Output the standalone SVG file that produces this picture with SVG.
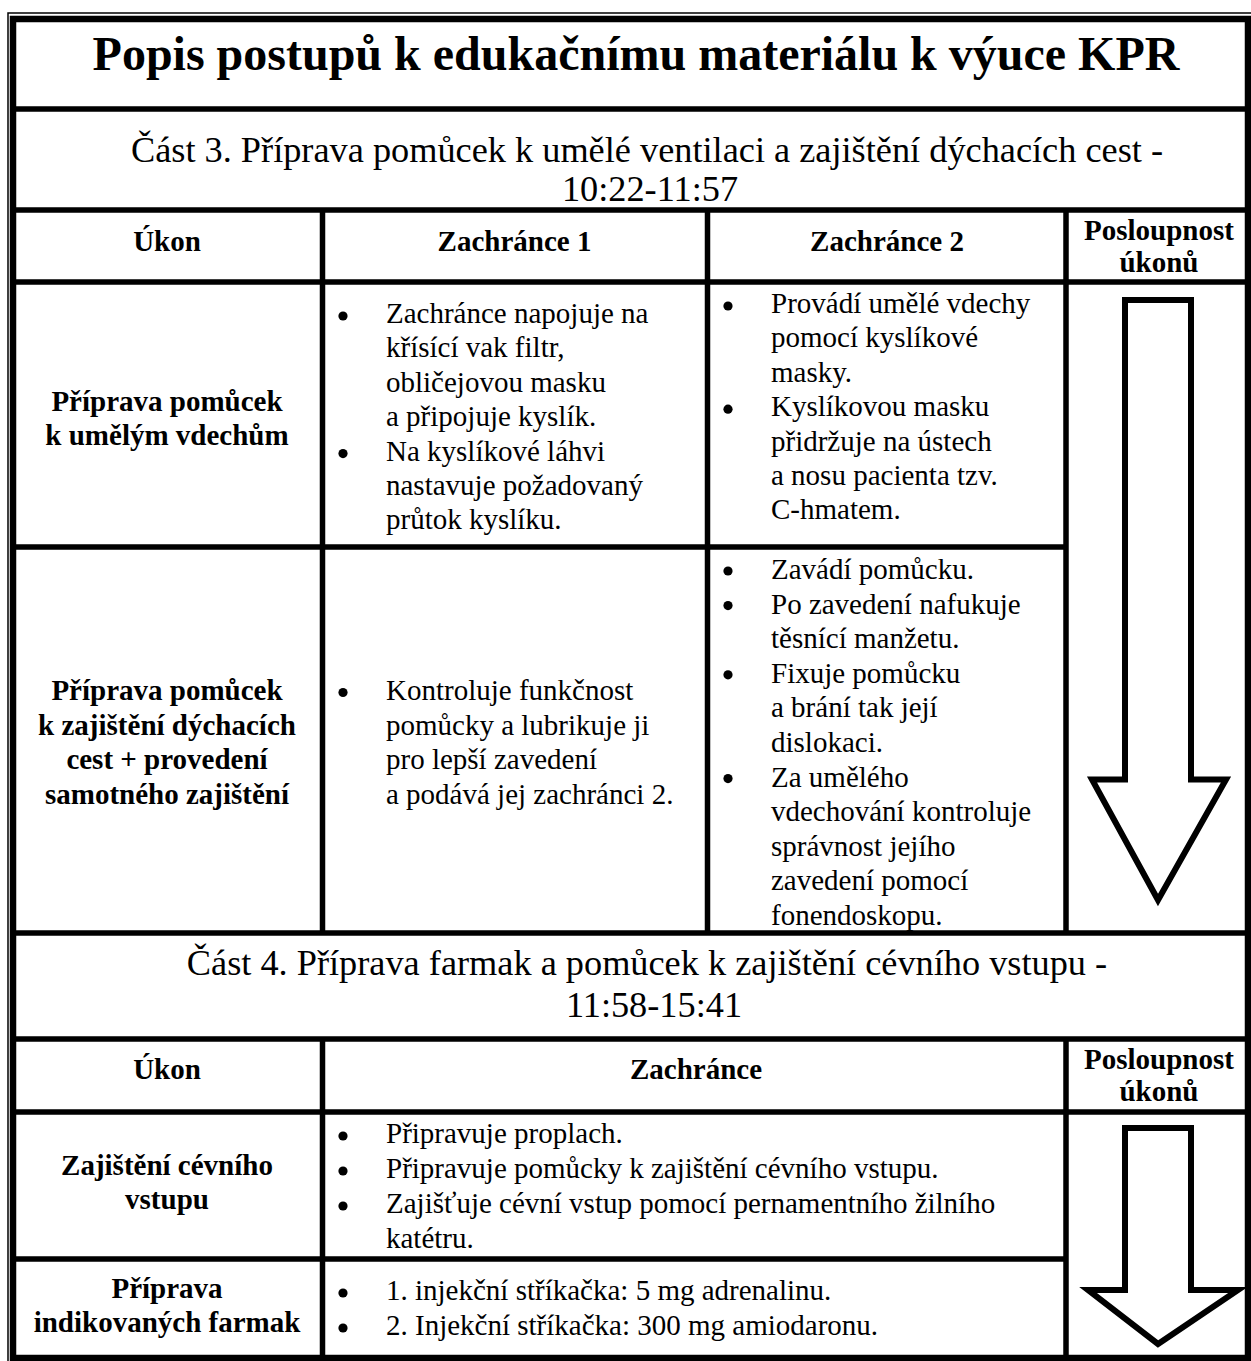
<svg xmlns="http://www.w3.org/2000/svg" width="1251" height="1361" viewBox="0 0 1251 1361">
<style>
text{font-family:"Liberation Serif","Times New Roman",serif;fill:#000}
.t{font-size:48px;font-weight:bold}
.h{font-size:36.3px}
.b{font-size:29px;font-weight:bold}
.r{font-size:29px}
.c{text-anchor:middle}
.dot{fill:#000}
.ln{stroke:#000;stroke-width:5.5;fill:none}
.arr{stroke:#000;stroke-width:6;fill:#fff;stroke-linejoin:miter}
</style>
<rect width="1251" height="1361" fill="#fff"/>
<g id="frame">
<rect x="8" y="13" width="1245" height="1352" fill="none" stroke="#000" stroke-width="1.5"/>
<rect x="13" y="19" width="1235" height="1339" fill="none" stroke="#000" stroke-width="6.5"/>
</g>
<g id="connectors">
<path class="ln" d="M13 109H1248M13 210H1248M13 282H1248M13 547H1066M13 933H1248M13 1039H1248M13 1112H1248M13 1259H1066"/>
<path class="ln" d="M322.5 210V933M707.5 210V933M1066 210V933M322.5 1039V1358M1066 1039V1358"/>
</g>
<g id="title"><text class="t c" x="636" y="70">Popis postupů k edukačnímu materiálu k výuce KPR</text></g>
<g id="part3">
<text class="h c" x="647" y="162">Část 3. Příprava pomůcek k umělé ventilaci a zajištění dýchacích cest -</text>
<text class="h c" x="650" y="201">10:22-11:57</text>
</g>
<g id="header3">
<text class="b c" x="167" y="251">Úkon</text>
<text class="b c" x="514.5" y="251">Zachránce 1</text>
<text class="b c" x="887" y="251">Zachránce 2</text>
<text class="b c" x="1159" y="240">Posloupnost</text>
<text class="b c" x="1159" y="272">úkonů</text>
</g>
<g id="row1-ukon">
<text class="b c" x="167" y="411">Příprava pomůcek</text>
<text class="b c" x="167" y="445">k umělým vdechům</text>
</g>
<g id="row1-z1">
<circle class="dot" cx="343" cy="316" r="4.6"/>
<text class="r" x="386" y="323">Zachránce napojuje na</text>
<text class="r" x="386" y="357.4">křísící vak filtr,</text>
<text class="r" x="386" y="391.8">obličejovou masku</text>
<text class="r" x="386" y="426.2">a připojuje kyslík.</text>
<circle class="dot" cx="343" cy="453.6" r="4.6"/>
<text class="r" x="386" y="460.6">Na kyslíkové láhvi</text>
<text class="r" x="386" y="495">nastavuje požadovaný</text>
<text class="r" x="386" y="529.4">průtok kyslíku.</text>
</g>
<g id="row1-z2">
<circle class="dot" cx="728" cy="306" r="4.6"/>
<text class="r" x="771" y="313">Provádí umělé vdechy</text>
<text class="r" x="771" y="347.4">pomocí kyslíkové</text>
<text class="r" x="771" y="381.8">masky.</text>
<circle class="dot" cx="728" cy="409.2" r="4.6"/>
<text class="r" x="771" y="416.2">Kyslíkovou masku</text>
<text class="r" x="771" y="450.6">přidržuje na ústech</text>
<text class="r" x="771" y="485">a nosu pacienta tzv.</text>
<text class="r" x="771" y="519.4">C-hmatem.</text>
</g>
<g id="row2-ukon">
<text class="b c" x="167" y="700">Příprava pomůcek</text>
<text class="b c" x="167" y="734.5">k zajištění dýchacích</text>
<text class="b c" x="167" y="769">cest + provedení</text>
<text class="b c" x="167" y="803.5">samotného zajištění</text>
</g>
<g id="row2-z1">
<circle class="dot" cx="343" cy="692.5" r="4.6"/>
<text class="r" x="386" y="700">Kontroluje funkčnost</text>
<text class="r" x="386" y="734.5">pomůcky a lubrikuje ji</text>
<text class="r" x="386" y="769">pro lepší zavedení</text>
<text class="r" x="386" y="803.5">a podává jej zachránci 2.</text>
</g>
<g id="row2-z2">
<circle class="dot" cx="728" cy="571" r="4.6"/>
<text class="r" x="771" y="579">Zavádí pomůcku.</text>
<circle class="dot" cx="728" cy="605.6" r="4.6"/>
<text class="r" x="771" y="613.6">Po zavedení nafukuje</text>
<text class="r" x="771" y="648.2">těsnící manžetu.</text>
<circle class="dot" cx="728" cy="674.8" r="4.6"/>
<text class="r" x="771" y="682.8">Fixuje pomůcku</text>
<text class="r" x="771" y="717.4">a brání tak její</text>
<text class="r" x="771" y="752">dislokaci.</text>
<circle class="dot" cx="728" cy="778.6" r="4.6"/>
<text class="r" x="771" y="786.6">Za umělého</text>
<text class="r" x="771" y="821.2">vdechování kontroluje</text>
<text class="r" x="771" y="855.8">správnost jejího</text>
<text class="r" x="771" y="890.4">zavedení pomocí</text>
<text class="r" x="771" y="925">fonendoskopu.</text>
</g>
<g id="arrow1"><polygon class="arr" points="1125,300 1191,300 1191,779.5 1226,779.5 1158,900 1092,779.5 1125,779.5"/></g>
<g id="part4">
<text class="h c" x="647" y="975">Část 4. Příprava farmak a pomůcek k zajištění cévního vstupu -</text>
<text class="h c" x="654" y="1017">11:58-15:41</text>
</g>
<g id="header4">
<text class="b c" x="167" y="1079">Úkon</text>
<text class="b c" x="696" y="1079">Zachránce</text>
<text class="b c" x="1159" y="1069">Posloupnost</text>
<text class="b c" x="1159" y="1101">úkonů</text>
</g>
<g id="row3-ukon">
<text class="b c" x="167" y="1175">Zajištění cévního</text>
<text class="b c" x="167" y="1209">vstupu</text>
</g>
<g id="row3-z">
<circle class="dot" cx="343" cy="1136" r="4.6"/>
<text class="r" x="386" y="1143">Připravuje proplach.</text>
<circle class="dot" cx="343" cy="1171" r="4.6"/>
<text class="r" x="386" y="1178">Připravuje pomůcky k zajištění cévního vstupu.</text>
<circle class="dot" cx="343" cy="1206" r="4.6"/>
<text class="r" x="386" y="1213">Zajišťuje cévní vstup pomocí pernamentního žilního</text>
<text class="r" x="386" y="1248">katétru.</text>
</g>
<g id="row4-ukon">
<text class="b c" x="167" y="1298">Příprava</text>
<text class="b c" x="167" y="1332">indikovaných farmak</text>
</g>
<g id="row4-z">
<circle class="dot" cx="343" cy="1293" r="4.6"/>
<text class="r" x="386" y="1300">1. injekční stříkačka: 5 mg adrenalinu.</text>
<circle class="dot" cx="343" cy="1328" r="4.6"/>
<text class="r" x="386" y="1335">2. Injekční stříkačka: 300 mg amiodaronu.</text>
</g>
<g id="arrow2"><polygon class="arr" points="1125,1128 1191,1128 1191,1290 1238,1290 1158,1344 1088,1290 1125,1290"/></g>
</svg>
